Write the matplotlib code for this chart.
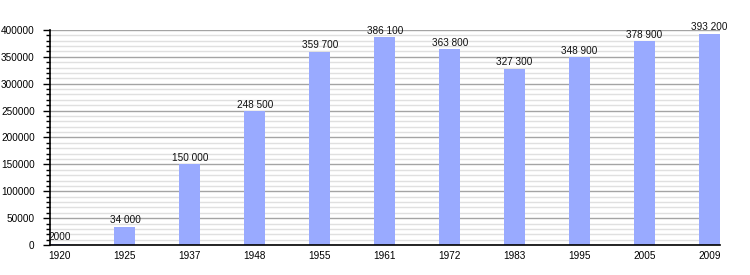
import numpy as np
import matplotlib.pyplot as plt
from matplotlib.ticker import MultipleLocator

years = ["1920", "1925", "1937", "1948", "1955", "1961", "1972", "1983", "1995", "2005", "2009"]
population = [2000, 34000, 150000, 248500, 359700, 386100, 363800, 327300, 348900, 378900, 393200]
labels = ["2000", "34 000", "150 000", "248 500", "359 700", "386 100",
          "363 800", "327 300", "348 900", "378 900", "393 200"]

plt.rcParams['font.family'] = ['Liberation Sans', 'DejaVu Sans']
fs = 7.2

fig = plt.figure(figsize=(7.5, 2.75), dpi=100)
ax = fig.add_axes([50 / 750, 30 / 275, 670 / 750, 215 / 275])

x = np.arange(len(years))
ax.bar(x, population, width=21 / 65, color='#99aaff', zorder=2)

for xi, v, lab in zip(x, population, labels):
    ax.text(xi, v + 3000, lab, ha='center', va='bottom', fontsize=fs, color='#111111', zorder=3)

ax.set_xlim(-10 / 65, 10 + 10.5 / 65)
ax.set_ylim(0, 400000)
ax.set_xticks(x)
ax.set_xticklabels(years, fontsize=fs)
ax.yaxis.set_major_locator(MultipleLocator(50000))
ax.yaxis.set_minor_locator(MultipleLocator(10000))
ax.tick_params(axis='y', which='major', length=5, width=1, labelsize=fs, pad=6)
ax.tick_params(axis='y', which='minor', length=3, width=1)
ax.tick_params(axis='x', length=0, pad=4)

ax.grid(axis='y', which='major', color='#a4a4a4', linewidth=1, zorder=0)
ax.grid(axis='y', which='minor', color='#e0e0e0', linewidth=1, zorder=0)
ax.set_axisbelow(True)

for s in ['top', 'right']:
    ax.spines[s].set_visible(False)
ax.spines['left'].set_linewidth(1.2)
ax.spines['bottom'].set_linewidth(1.2)

fig.savefig('out.png', dpi=100)
